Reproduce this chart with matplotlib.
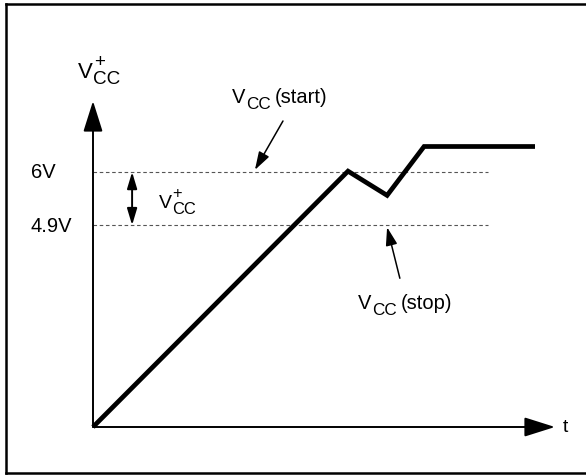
import matplotlib
matplotlib.use("Agg")
import matplotlib.pyplot as plt
from matplotlib.lines import Line2D

plt.rcParams['font.family'] = ['Liberation Sans', 'DejaVu Sans']

# schematic waveform (diagram units, not to scale)
t_vals = [0.0, 6.0, 6.92, 7.79, 10.4]
v_vals = [0.0, 6.02, 5.45, 6.6, 6.6]

# threshold levels (drawn position) and their labels
level_pos = [6.0, 4.75]
level_labels = ['6V', '4.9V']
level_end = 9.3

t_axis_end = 10.87
v_axis_end = 7.67

# pixel -> data scale: 42.5 px per unit, origin at pixel (93, 428)
W, H = 586, 477
px = 42.5
ox, oy = 93, 428

fig = plt.figure(figsize=(W / 100, H / 100), dpi=100)
ax = fig.add_axes([0, 0, 1, 1])
ax.set_xlim(-ox / px, (W - ox) / px)
ax.set_ylim(-(H - oy) / px, oy / px)
ax.axis('off')

# outer border: top, left, bottom (right edge is cut off in the reference)
x0, y0, y1 = 6 / W, 1 - 5 / H, 1 - 474 / H
for xs, ys in [([x0, 1.01], [y0, y0]), ([x0, x0], [y0, y1]), ([x0, 1.01], [y1, y1])]:
    fig.add_artist(Line2D(xs, ys, transform=fig.transFigure, color='black', lw=1.8))


def vcc(x, y, size, sup=False, tail=''):
    # "V" with a near full size "CC" subscript, optional "+" and trailing text
    ax.text(x, y, 'V', fontsize=size, ha='left', va='baseline')
    sub = 0.85 * size
    ax.annotate('CC', xy=(x, y), xytext=(0.68 * size, -0.3 * size),
                textcoords='offset points', fontsize=sub, ha='left', va='baseline')
    if sup:
        ax.annotate('+', xy=(x, y), xytext=(0.7 * size, 0.5 * size),
                    textcoords='offset points', fontsize=sub, ha='left', va='baseline')
    if tail:
        ax.annotate(tail, xy=(x, y), xytext=(0.68 * size + 1.45 * sub + 0.22 * size, 0),
                    textcoords='offset points', fontsize=size, ha='left', va='baseline')


# axes with filled arrowheads
arrow = dict(arrowstyle='-|>,head_length=1.9,head_width=0.6', color='black',
             lw=1.4, shrinkA=0, shrinkB=0)
ax.annotate('', xy=(t_axis_end, 0), xytext=(0, 0), arrowprops=arrow)
ax.annotate('', xy=(0, v_axis_end), xytext=(0, 0), arrowprops=arrow)
ax.text(t_axis_end + 0.19, 0, 't', fontsize=14, va='center', ha='left')
vcc(-0.35, 8.24, 16, sup=True)

# dashed levels
for pos, lab in zip(level_pos, level_labels):
    ax.plot([0, level_end], [pos, pos], color='#555555', lw=0.8, dashes=(3.2, 2.4))
    ax.text(-1.46, pos, lab, fontsize=14.5, ha='left', va='center')

# hysteresis double arrow
ax.annotate('', xy=(0.92, level_pos[0]), xytext=(0.92, level_pos[1]),
            arrowprops=dict(arrowstyle='<|-|>,head_length=1.0,head_width=0.3',
                            color='black', lw=1.4, shrinkA=0, shrinkB=0))
vcc(1.55, 5.18, 14, sup=True)

# waveform
ax.plot(t_vals, v_vals, color='black', lw=3.4, solid_joinstyle='miter',
        solid_capstyle='butt')

# callouts
small = dict(arrowstyle='-|>,head_length=1.1,head_width=0.35', color='black',
             lw=1.1, shrinkA=0, shrinkB=0)
ax.annotate('', xy=(3.81, level_pos[0] + 0.05), xytext=(4.47, 7.2), arrowprops=small)
vcc(3.27, 7.65, 14.5, tail='(start)')
ax.annotate('', xy=(6.92, level_pos[1] - 0.05), xytext=(7.22, 3.5), arrowprops=small)
vcc(6.24, 2.8, 14.5, tail='(stop)')

fig.savefig('out.png', dpi=100)
